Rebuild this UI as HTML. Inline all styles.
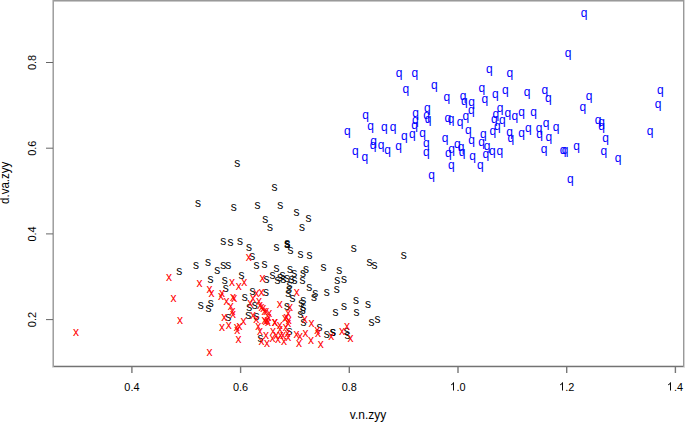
<!DOCTYPE html>
<html><head><meta charset="utf-8"><title>plot</title><style>
html,body{margin:0;padding:0;background:#fff;overflow:hidden;}
svg{display:block}
text{font-family:"Liberation Sans",sans-serif;}
</style></head><body>
<svg width="685" height="422" viewBox="0 0 685 422">
<rect x="0" y="0" width="685" height="422" fill="#fff"/>
<rect x="53" y="0" width="631" height="1" fill="#999"/>
<rect x="54" y="1" width="629" height="1" fill="#c8c8c8"/>
<rect x="52" y="365" width="632" height="1" fill="#d8d8d8"/>
<rect x="52" y="366" width="633" height="1" fill="#737373"/>
<rect x="52" y="367" width="633" height="1" fill="#e0e0e0"/>
<rect x="52" y="0" width="1" height="367" fill="#cacaca"/>
<rect x="53" y="0" width="1" height="367" fill="#a0a0a0"/>
<rect x="683" y="0" width="1" height="367" fill="#999"/>
<rect x="684" y="0" width="1" height="367" fill="#d3d3d3"/>
<g stroke="#777" stroke-width="1.4">
<line x1="131.9" y1="367" x2="131.9" y2="373"/>
<line x1="240.6" y1="367" x2="240.6" y2="373"/>
<line x1="349.3" y1="367" x2="349.3" y2="373"/>
<line x1="458.0" y1="367" x2="458.0" y2="373"/>
<line x1="566.7" y1="367" x2="566.7" y2="373"/>
<line x1="675.4" y1="367" x2="675.4" y2="373"/>
</g>
<g stroke="#666" stroke-width="1">
<line x1="46" y1="62.5" x2="53" y2="62.5"/>
<line x1="46" y1="148.2" x2="53" y2="148.2"/>
<line x1="46" y1="233.9" x2="53" y2="233.9"/>
<line x1="46" y1="319.6" x2="53" y2="319.6"/>
</g>
<g font-size="11.5" fill="#000" text-anchor="middle">
<text transform="translate(131.9 390.6) scale(0.95 1)">0.4</text>
<text transform="translate(240.6 390.6) scale(0.95 1)">0.6</text>
<text transform="translate(349.3 390.6) scale(0.95 1)">0.8</text>
<path fill="#000" stroke="none" transform="translate(449.89 390.6) scale(0.005334 -0.005615)" d="M763 0L583 0L583 1147Q518 1085 412 1023Q306 961 222 930L222 1104Q373 1175 486 1276Q599 1377 646 1472L763 1472Z"/>
<text text-anchor="start" transform="translate(456.48 390.6) scale(0.95 1)">.0</text>
<path fill="#000" stroke="none" transform="translate(558.89 390.6) scale(0.005334 -0.005615)" d="M763 0L583 0L583 1147Q518 1085 412 1023Q306 961 222 930L222 1104Q373 1175 486 1276Q599 1377 646 1472L763 1472Z"/>
<text text-anchor="start" transform="translate(565.18 390.6) scale(0.95 1)">.2</text>
<path fill="#000" stroke="none" transform="translate(666.89 390.6) scale(0.005334 -0.005615)" d="M763 0L583 0L583 1147Q518 1085 412 1023Q306 961 222 930L222 1104Q373 1175 486 1276Q599 1377 646 1472L763 1472Z"/>
<text text-anchor="start" transform="translate(673.88 390.6) scale(0.95 1)">.4</text>
<text transform="translate(36.4 62.5) rotate(-90) scale(0.95 1)">0.8</text>
<text transform="translate(36.4 148.2) rotate(-90) scale(0.95 1)">0.6</text>
<text transform="translate(36.4 233.9) rotate(-90) scale(0.95 1)">0.4</text>
<text transform="translate(36.4 319.6) rotate(-90) scale(0.95 1)">0.2</text>
</g>
<g font-size="12" fill="#000" text-anchor="middle">
<text x="368" y="418.9">v.n.zyy</text>
<text transform="translate(8.9 182.8) rotate(-90) scale(0.96 1)">d.va.zyy</text>
</g>
<g font-size="12" text-anchor="middle">
<g fill="#000">
<text x="237.2" y="167.3">s</text>
<text x="274.4" y="191.4">s</text>
<text x="198.0" y="206.7">s</text>
<text x="233.7" y="211.2">s</text>
<text x="257.5" y="209.4">s</text>
<text x="280.2" y="208.5">s</text>
<text x="296.4" y="215.7">s</text>
<text x="308.6" y="221.5">s</text>
<text x="265.3" y="223.4">s</text>
<text x="270.1" y="231.2">s</text>
<text x="302.1" y="230.9">s</text>
<text x="223.2" y="245.4">s</text>
<text x="230.4" y="246.0">s</text>
<text x="240.1" y="244.8">s</text>
<text x="249.0" y="250.5">s</text>
<text x="252.3" y="259.9">s</text>
<text x="276.6" y="250.5">s</text>
<text x="287.3" y="247.1">s</text>
<text x="287.3" y="248.1">s</text>
<text x="287.3" y="247.6">s</text>
<text x="290.5" y="253.7">s</text>
<text x="300.6" y="258.2">s</text>
<text x="309.5" y="259.0">s</text>
<text x="353.8" y="252.0">s</text>
<text x="403.7" y="258.6">s</text>
<text x="369.6" y="265.7">s</text>
<text x="374.6" y="269.0">s</text>
<text x="179.3" y="275.3">s</text>
<text x="196.1" y="268.7">s</text>
<text x="208.0" y="266.4">s</text>
<text x="217.2" y="274.0">s</text>
<text x="223.3" y="269.4">s</text>
<text x="228.3" y="269.4">s</text>
<text x="210.6" y="283.0">s</text>
<text x="224.7" y="284.4">s</text>
<text x="225.7" y="292.2">s</text>
<text x="241.5" y="279.4">s</text>
<text x="256.6" y="269.4">s</text>
<text x="264.5" y="268.4">s</text>
<text x="272.4" y="278.6">s</text>
<text x="276.5" y="272.3">s</text>
<text x="290.1" y="273.4">s</text>
<text x="294.3" y="277.0">s</text>
<text x="305.9" y="272.8">s</text>
<text x="302.9" y="277.2">s</text>
<text x="302.6" y="283.9">s</text>
<text x="277.6" y="283.9">s</text>
<text x="282.6" y="279.1">s</text>
<text x="283.2" y="283.4">s</text>
<text x="286.9" y="281.7">s</text>
<text x="291.5" y="282.9">s</text>
<text x="294.4" y="284.2">s</text>
<text x="266.5" y="283.0">s</text>
<text x="289.4" y="289.2">s</text>
<text x="289.0" y="293.2">s</text>
<text x="288.3" y="297.4">s</text>
<text x="292.5" y="302.4">s</text>
<text x="309.3" y="290.6">s</text>
<text x="323.5" y="270.5">s</text>
<text x="339.3" y="273.9">s</text>
<text x="337.2" y="284.0">s</text>
<text x="344.1" y="282.9">s</text>
<text x="252.6" y="294.5">s</text>
<text x="266.1" y="295.7">s</text>
<text x="244.7" y="300.8">s</text>
<text x="315.3" y="297.3">s</text>
<text x="314.0" y="301.2">s</text>
<text x="326.8" y="295.6">s</text>
<text x="336.7" y="292.6">s</text>
<text x="303.3" y="303.9">s</text>
<text x="301.3" y="307.4">s</text>
<text x="303.3" y="311.1">s</text>
<text x="302.8" y="314.0">s</text>
<text x="300.5" y="318.1">s</text>
<text x="344.1" y="309.8">s</text>
<text x="335.5" y="316.2">s</text>
<text x="355.9" y="304.0">s</text>
<text x="367.9" y="307.9">s</text>
<text x="356.6" y="316.1">s</text>
<text x="371.5" y="325.6">s</text>
<text x="377.6" y="322.5">s</text>
<text x="332.8" y="336.0">s</text>
<text x="346.8" y="334.6">s</text>
<text x="347.6" y="339.4">s</text>
<text x="254.7" y="308.7">s</text>
<text x="249.2" y="311.3">s</text>
<text x="248.2" y="319.3">s</text>
<text x="256.6" y="319.8">s</text>
<text x="287.1" y="310.3">s</text>
<text x="200.8" y="309.3">s</text>
<text x="210.8" y="307.0">s</text>
<text x="208.5" y="312.0">s</text>
<text x="228.3" y="321.2">s</text>
<text x="260.4" y="341.7">s</text>
<text x="289.5" y="334.6">s</text>
<text x="303.6" y="326.1">s</text>
<text x="319.4" y="331.4">s</text>
<text x="326.8" y="338.0">s</text>
<text x="333.0" y="335.8">s</text>
<text x="280.0" y="281.4">s</text>
</g>
<g fill="#f00">
<text x="76.0" y="336.1">x</text>
<text x="169.0" y="280.6">x</text>
<text x="173.4" y="301.6">x</text>
<text x="180.1" y="324.0">x</text>
<text x="199.5" y="287.1">x</text>
<text x="209.6" y="292.8">x</text>
<text x="211.4" y="297.3">x</text>
<text x="221.9" y="297.4">x</text>
<text x="221.0" y="300.3">x</text>
<text x="232.1" y="286.1">x</text>
<text x="238.8" y="289.7">x</text>
<text x="244.3" y="286.3">x</text>
<text x="226.6" y="304.6">x</text>
<text x="233.0" y="301.3">x</text>
<text x="234.2" y="302.1">x</text>
<text x="230.8" y="310.1">x</text>
<text x="232.4" y="314.7">x</text>
<text x="233.0" y="317.6">x</text>
<text x="224.2" y="320.8">x</text>
<text x="221.9" y="331.0">x</text>
<text x="228.8" y="329.1">x</text>
<text x="236.8" y="331.0">x</text>
<text x="239.5" y="330.0">x</text>
<text x="237.2" y="334.0">x</text>
<text x="238.6" y="343.1">x</text>
<text x="209.4" y="356.3">x</text>
<text x="243.4" y="324.6">x</text>
<text x="248.7" y="261.0">x</text>
<text x="262.4" y="282.4">x</text>
<text x="256.6" y="296.8">x</text>
<text x="261.6" y="295.7">x</text>
<text x="253.1" y="301.7">x</text>
<text x="258.9" y="305.2">x</text>
<text x="250.2" y="306.8">x</text>
<text x="296.8" y="296.4">x</text>
<text x="279.8" y="307.8">x</text>
<text x="261.5" y="310.7">x</text>
<text x="266.3" y="314.8">x</text>
<text x="269.2" y="317.2">x</text>
<text x="268.6" y="320.7">x</text>
<text x="264.5" y="323.7">x</text>
<text x="268.0" y="326.1">x</text>
<text x="275.1" y="325.6">x</text>
<text x="279.8" y="328.7">x</text>
<text x="258.3" y="330.1">x</text>
<text x="288.2" y="317.2">x</text>
<text x="286.4" y="321.3">x</text>
<text x="288.8" y="323.7">x</text>
<text x="288.2" y="327.3">x</text>
<text x="289.9" y="310.7">x</text>
<text x="256.3" y="322.8">x</text>
<text x="253.0" y="319.3">x</text>
<text x="260.0" y="334.5">x</text>
<text x="266.0" y="339.3">x</text>
<text x="266.9" y="346.9">x</text>
<text x="261.5" y="344.9">x</text>
<text x="273.1" y="334.8">x</text>
<text x="272.6" y="342.3">x</text>
<text x="276.3" y="338.7">x</text>
<text x="279.9" y="332.8">x</text>
<text x="280.5" y="338.7">x</text>
<text x="278.1" y="343.3">x</text>
<text x="282.9" y="339.3">x</text>
<text x="284.1" y="345.1">x</text>
<text x="285.8" y="331.3">x</text>
<text x="288.2" y="340.7">x</text>
<text x="296.6" y="338.0">x</text>
<text x="300.1" y="339.6">x</text>
<text x="299.0" y="347.1">x</text>
<text x="304.8" y="322.7">x</text>
<text x="311.5" y="327.3">x</text>
<text x="317.2" y="334.4">x</text>
<text x="318.1" y="336.8">x</text>
<text x="331.2" y="339.8">x</text>
<text x="341.9" y="334.5">x</text>
<text x="347.0" y="329.5">x</text>
<text x="305.4" y="337.4">x</text>
<text x="311.1" y="344.0">x</text>
<text x="320.7" y="347.5">x</text>
<text x="350.6" y="342.3">x</text>
<text x="260.0" y="309.2">x</text>
<text x="263.2" y="312.4">x</text>
<text x="264.4" y="314.9">x</text>
<text x="267.6" y="323.9">x</text>
<text x="265.7" y="325.2">x</text>
<text x="274.7" y="325.8">x</text>
<text x="287.5" y="336.7">x</text>
<text x="284.9" y="322.0">x</text>
</g>
<g fill="#00f">
<text x="584.0" y="16.6">q</text>
<text x="568.0" y="57.2">q</text>
<text x="489.3" y="73.2">q</text>
<text x="509.9" y="76.7">q</text>
<text x="399.1" y="76.6">q</text>
<text x="414.9" y="76.9">q</text>
<text x="434.3" y="88.6">q</text>
<text x="405.8" y="92.9">q</text>
<text x="481.9" y="91.6">q</text>
<text x="505.3" y="94.3">q</text>
<text x="495.4" y="97.5">q</text>
<text x="446.9" y="101.3">q</text>
<text x="463.0" y="100.4">q</text>
<text x="464.4" y="104.5">q</text>
<text x="471.7" y="106.2">q</text>
<text x="484.9" y="102.7">q</text>
<text x="527.0" y="96.0">q</text>
<text x="544.9" y="93.5">q</text>
<text x="548.3" y="101.8">q</text>
<text x="589.1" y="100.2">q</text>
<text x="582.9" y="111.0">q</text>
<text x="660.4" y="94.4">q</text>
<text x="658.0" y="107.6">q</text>
<text x="365.7" y="118.8">q</text>
<text x="415.6" y="116.7">q</text>
<text x="415.3" y="123.9">q</text>
<text x="414.6" y="128.5">q</text>
<text x="427.4" y="112.1">q</text>
<text x="426.7" y="118.9">q</text>
<text x="428.1" y="123.1">q</text>
<text x="471.4" y="113.5">q</text>
<text x="500.2" y="112.1">q</text>
<text x="507.9" y="117.1">q</text>
<text x="514.8" y="119.8">q</text>
<text x="521.5" y="116.1">q</text>
<text x="495.8" y="118.0">q</text>
<text x="465.9" y="119.9">q</text>
<text x="447.8" y="122.4">q</text>
<text x="451.0" y="123.1">q</text>
<text x="460.2" y="125.6">q</text>
<text x="494.3" y="122.9">q</text>
<text x="502.4" y="124.0">q</text>
<text x="533.7" y="115.9">q</text>
<text x="370.5" y="130.0">q</text>
<text x="384.3" y="131.0">q</text>
<text x="393.1" y="131.4">q</text>
<text x="347.4" y="135.2">q</text>
<text x="404.3" y="139.6">q</text>
<text x="412.4" y="138.4">q</text>
<text x="422.6" y="137.3">q</text>
<text x="373.7" y="144.9">q</text>
<text x="373.2" y="149.3">q</text>
<text x="381.0" y="149.3">q</text>
<text x="387.6" y="154.4">q</text>
<text x="398.5" y="150.0">q</text>
<text x="426.4" y="146.6">q</text>
<text x="426.4" y="156.3">q</text>
<text x="355.4" y="155.4">q</text>
<text x="364.8" y="161.2">q</text>
<text x="431.5" y="179.1">q</text>
<text x="468.4" y="134.4">q</text>
<text x="445.0" y="142.0">q</text>
<text x="497.3" y="130.2">q</text>
<text x="492.9" y="135.3">q</text>
<text x="483.4" y="137.5">q</text>
<text x="509.7" y="136.0">q</text>
<text x="510.8" y="142.1">q</text>
<text x="521.5" y="137.3">q</text>
<text x="471.6" y="144.3">q</text>
<text x="457.4" y="148.4">q</text>
<text x="461.0" y="151.3">q</text>
<text x="462.2" y="156.4">q</text>
<text x="451.6" y="153.1">q</text>
<text x="448.4" y="157.2">q</text>
<text x="472.6" y="160.0">q</text>
<text x="451.4" y="169.2">q</text>
<text x="481.7" y="145.8">q</text>
<text x="487.2" y="150.2">q</text>
<text x="485.8" y="157.5">q</text>
<text x="492.3" y="155.3">q</text>
<text x="499.9" y="154.9">q</text>
<text x="480.4" y="169.1">q</text>
<text x="528.4" y="132.0">q</text>
<text x="539.1" y="132.0">q</text>
<text x="539.5" y="137.6">q</text>
<text x="546.1" y="126.6">q</text>
<text x="548.9" y="140.8">q</text>
<text x="556.2" y="131.0">q</text>
<text x="544.2" y="153.3">q</text>
<text x="563.0" y="153.9">q</text>
<text x="565.1" y="154.1">q</text>
<text x="576.5" y="150.2">q</text>
<text x="598.0" y="123.6">q</text>
<text x="601.5" y="126.1">q</text>
<text x="601.5" y="130.3">q</text>
<text x="605.6" y="142.0">q</text>
<text x="603.8" y="155.2">q</text>
<text x="618.1" y="161.6">q</text>
<text x="650.0" y="134.8">q</text>
<text x="570.4" y="182.8">q</text>
</g>
</g>
</svg>
</body></html>
